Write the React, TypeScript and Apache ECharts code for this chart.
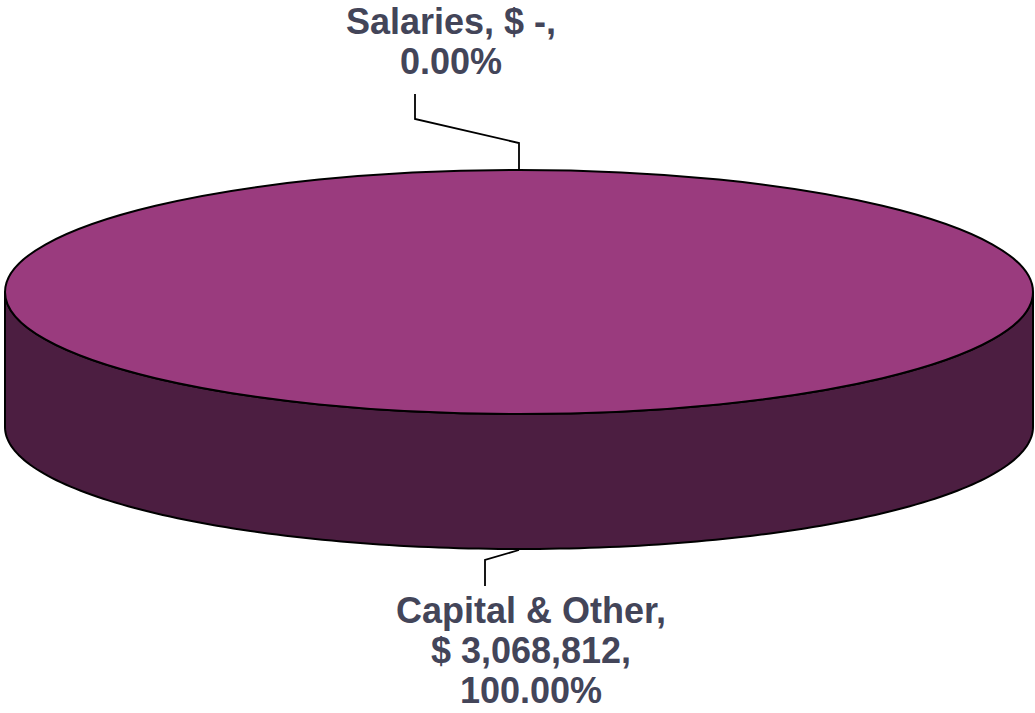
import React, { useEffect, useRef } from "react";
import * as echarts from "echarts";

const categories = ["Salaries", "Capital & Other"];
const values = [0, 3068812];

const total = values.reduce((a, b) => a + b, 0);
const starts: number[] = [];
values.reduce((acc, v) => { starts.push(acc); return acc + v; }, 0);

// layout (not data)
const GEO = { cx: 519, cy: 292, rx: 514, ry: 122, depth: 135 };
const TOP_COLOR = "#9A3B7E";
const SIDE_COLOR = "#4C1E41";
const TEXT_COLOR = "#434559";
const FONT = 'bold 36px "Liberation Sans", Arial, sans-serif';
const LEADERS = [
  { pts: [[0, 0], [0, -27], [-104, -51], [-104, -76]], label: [-68, -89], vAlign: "bottom" },
  { pts: [[0, 1], [-34, 11], [-34, 37]], label: [12, 41], vAlign: "top" },
];

function fmtMoney(v: number) {
  return v === 0 ? "$ -" : "$ " + v.toLocaleString("en-US");
}

function labelText(i: number) {
  const pct = ((values[i] / total) * 100).toFixed(2) + "%";
  if (values[i] === 0) return `${categories[i]}, ${fmtMoney(values[i])},\n${pct}`;
  return `${categories[i]},\n${fmtMoney(values[i])},\n${pct}`;
}

function renderItem(params: any, api: any) {
  const i = params.dataIndex;
  const v = api.value(1);
  const { cx, cy, rx, ry, depth } = GEO;
  const a0 = -Math.PI / 2 + (2 * Math.PI * starts[i]) / total;
  const a1 = a0 + (2 * Math.PI * v) / total;
  const children: any[] = [];
  const stroke = { stroke: "#000", lineWidth: 2 };

  if (v > 0) {
    const fronts = [[-2 * Math.PI, -Math.PI], [0, Math.PI], [2 * Math.PI, 3 * Math.PI]];
    for (const [f0, f1] of fronts) {
      const s = Math.max(a0, f0);
      const e = Math.min(a1, f1);
      if (e > s) {
        const n = 160;
        const topPts: number[][] = [];
        const botPts: number[][] = [];
        for (let k = 0; k <= n; k++) {
          const t = s + ((e - s) * k) / n;
          const x = cx + rx * Math.cos(t);
          const y = cy + ry * Math.sin(t);
          topPts.push([x, y]);
          botPts.push([x, y + depth]);
        }
        children.push({
          type: "polygon",
          shape: { points: topPts.concat(botPts.reverse()) },
          style: { fill: SIDE_COLOR, ...stroke },
        });
      }
    }
    if (a1 - a0 >= 2 * Math.PI - 1e-6) {
      children.push({
        type: "ellipse",
        shape: { cx, cy, rx, ry },
        style: { fill: TOP_COLOR, ...stroke },
      });
    } else {
      const pts: number[][] = [[cx, cy]];
      const n = 160;
      for (let k = 0; k <= n; k++) {
        const t = a0 + ((a1 - a0) * k) / n;
        pts.push([cx + rx * Math.cos(t), cy + ry * Math.sin(t)]);
      }
      children.push({ type: "polygon", shape: { points: pts }, style: { fill: TOP_COLOR, ...stroke } });
    }
  }

  const mid = (a0 + a1) / 2;
  const sinM = Math.sin(mid);
  const ax = cx + rx * Math.cos(mid);
  const ay = cy + ry * sinM + (sinM > 0 ? depth : 0);
  const L = LEADERS[i];
  children.push({
    type: "polyline",
    shape: { points: L.pts.map((p) => [ax + p[0], ay + p[1]]) },
    style: { stroke: "#000", lineWidth: 1.8, fill: null },
  });
  children.push({
    type: "text",
    x: ax + L.label[0],
    y: ay + L.label[1],
    style: {
      text: labelText(i),
      font: FONT,
      fill: TEXT_COLOR,
      align: "center",
      verticalAlign: L.vAlign,
      lineHeight: 40,
    },
  });
  return { type: "group", children };
}

export default function App() {
  const ref = useRef<HTMLDivElement>(null);
  useEffect(() => {
    if (!ref.current) return;
    const chart = echarts.init(ref.current, undefined, { renderer: "svg" });
    chart.setOption({
      animation: false,
      backgroundColor: "#ffffff",
      series: [
        {
          type: "custom",
          coordinateSystem: "none",
          renderItem,
          data: values.map((v, i) => ({ name: categories[i], value: [i, v] })),
        },
      ],
    });
    return () => chart.dispose();
  }, []);
  return (
    <div
      ref={ref}
      style={{ position: "absolute", left: 0, top: 0, width: 1035, height: 713 }}
    />
  );
}
